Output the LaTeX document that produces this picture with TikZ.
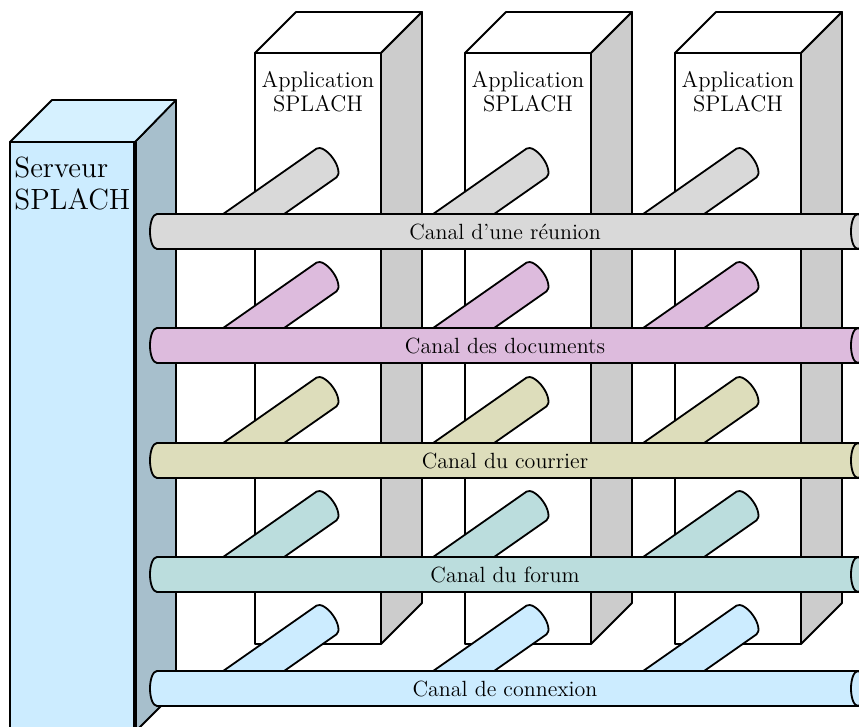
\documentclass[tikz,border=0pt]{standalone}
\usepackage{fontspec}
\usepackage{tikz}
\usetikzlibrary{calc}
\definecolor{srvFront}{HTML}{CCECFF}
\definecolor{srvTop}{HTML}{D6F1FF}
\definecolor{srvSide}{HTML}{A7BFCC}
\definecolor{appSide}{HTML}{CCCCCC}
\definecolor{canalGris}{HTML}{D9D9D9}
\definecolor{canalRose}{HTML}{DDBBDD}
\definecolor{canalKaki}{HTML}{DDDDBB}
\definecolor{canalVert}{HTML}{BBDDDD}
\definecolor{canalBleu}{HTML}{CCECFF}
\tikzset{
  face/.style      ={draw=black, line width=0.9pt, line join=round},
  front/.style     ={face, fill=white},
  side/.style      ={face, fill=appSide},
  tube/.style      ={draw=black, line width=0.9pt, line join=round},
  applabel/.style  ={inner sep=0pt, align=center,
                     font=\fontsize{11.3}{12}\selectfont},
  srvlabel/.style  ={inner sep=0pt, align=left,
                     font=\fontsize{14.6}{16}\selectfont},
  canallabel/.style={inner sep=0pt, font=\fontsize{11}{12}\selectfont},
}
% columns: index / left edge of the front face
\def\applist{0/255, 1/465, 2/675}
% channels: index / top of the tube / colour / label
\def\canallist{%
  1/214/canalGris/Canal d'une réunion,
  2/328/canalRose/Canal des documents,
  3/443/canalKaki/Canal du courrier,
  4/557/canalVert/Canal du forum,
  5/671/canalBleu/Canal de connexion}

\begin{document}
\begin{tikzpicture}[x=0.5pt, y=-0.5pt]
\useasboundingbox (0,0) rectangle (859,727);
\clip (0,0) rectangle (859,727);
% --- the three applications ---
\foreach \j/\ax in \applist {
  \draw[front] (\ax,53) rectangle (\ax+126,644);
  \draw[front] (\ax,53) -- ++(41,-41) -- ++(126,0) -- ++(-41,41) -- cycle;
  \draw[side] (\ax+126,53) -- ++(41,-41) -- ++(0,591) -- ++(-41,41) -- cycle;
  \node[applabel, anchor=north] (app\j) at (\ax+63,71) {Application\\SPLACH};
}
% --- the server ---
\draw[face, fill=srvSide] (135,142) -- (176,100) -- (176,691) -- (135,732) -- cycle;
\draw[face, fill=srvTop] (10,142) -- (52,100) -- (176,100) -- (135,142) -- cycle;
\draw[face, fill=srvFront] (10,142) rectangle (135,740);
\draw[line width=2pt] (135,142) -- (135,740);
\node[srvlabel, anchor=north west] (srv) at (14,157) {Serveur\\SPLACH};
% --- the channels, each with one branch per application ---
\foreach \k/\ty/\col/\lab in \canallist {
  \foreach \j in {0,1,2} {
    \begin{scope}[shift={(326.5+210*\j,\ty-51)}, rotate=35]
      \draw[tube, fill=\col] (-120,-17.5) -- (0,-17.5)
        arc[start angle=-90, end angle=90, x radius=8, y radius=17.5]
        -- (-120,17.5) -- cycle;
    \end{scope}
  }
  \draw[tube, fill=\col] (157,\ty) -- (858,\ty)
    arc[start angle=-90, end angle=90, x radius=7, y radius=17.5]
    -- (157,\ty+35)
    arc[start angle=90, end angle=270, x radius=7, y radius=17.5] -- cycle;
  \draw[tube, fill=\col] (858,\ty+17.5) ellipse [x radius=7, y radius=17.5];
  \node[canallabel] (canal\k) at (505,\ty+17.5) {\lab};
}
\end{tikzpicture}
\end{document}
